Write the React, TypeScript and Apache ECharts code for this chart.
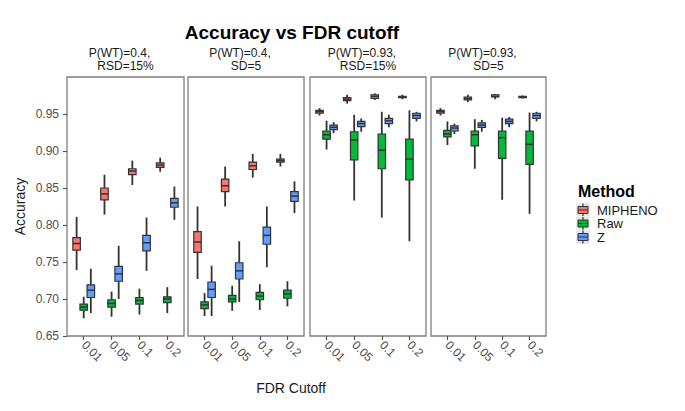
import React, { useEffect, useRef } from "react";
import * as echarts from "echarts";

const cutoffs = ["0.01", "0.05", "0.1", "0.2"];
const methods = ["MIPHENO", "Raw", "Z"];
const stripLine1 = ["P(WT)=0.4,", "P(WT)=0.4,", "P(WT)=0.93,", "P(WT)=0.93,"];
const stripLine2 = ["RSD=15%", "SD=5", "RSD=15%", "SD=5"];
const yTicks = [0.65, 0.7, 0.75, 0.8, 0.85, 0.9, 0.95];

// each entry: [lowerWhisker, q1, median, q3, upperWhisker] per FDR cutoff
const p1Mipheno = [[0.739, 0.766, 0.775, 0.783, 0.811], [0.814, 0.834, 0.842, 0.85, 0.868], [0.854, 0.868, 0.873, 0.876, 0.887], [0.872, 0.878, 0.881, 0.884, 0.891]];
const p1Raw = [[0.674, 0.685, 0.689, 0.693, 0.703], [0.676, 0.689, 0.694, 0.699, 0.71], [0.679, 0.693, 0.698, 0.702, 0.714], [0.681, 0.695, 0.7, 0.703, 0.716]];
const p1Z = [[0.681, 0.702, 0.712, 0.719, 0.741], [0.7, 0.724, 0.734, 0.744, 0.772], [0.738, 0.765, 0.776, 0.786, 0.81], [0.807, 0.824, 0.83, 0.836, 0.852]];

const p2Mipheno = [[0.727, 0.763, 0.777, 0.791, 0.825], [0.825, 0.845, 0.853, 0.862, 0.879], [0.864, 0.875, 0.88, 0.885, 0.896], [0.879, 0.885, 0.887, 0.889, 0.896]];
const p2Raw = [[0.677, 0.687, 0.692, 0.696, 0.708], [0.684, 0.696, 0.7, 0.705, 0.718], [0.685, 0.699, 0.704, 0.709, 0.72], [0.69, 0.701, 0.707, 0.712, 0.724]];
const p2Z = [[0.677, 0.702, 0.713, 0.723, 0.745], [0.696, 0.727, 0.738, 0.749, 0.778], [0.743, 0.774, 0.786, 0.797, 0.825], [0.816, 0.832, 0.839, 0.845, 0.859]];

const p3Mipheno = [[0.948, 0.951, 0.953, 0.955, 0.958], [0.964, 0.968, 0.97, 0.972, 0.976], [0.969, 0.971, 0.974, 0.976, 0.978], [0.97, 0.972, 0.973, 0.974, 0.976]];
const p3Raw = [[0.902, 0.916, 0.922, 0.927, 0.941], [0.833, 0.888, 0.915, 0.926, 0.949], [0.81, 0.876, 0.901, 0.923, 0.953], [0.778, 0.861, 0.889, 0.916, 0.955]];
const p3Z = [[0.924, 0.929, 0.932, 0.935, 0.939], [0.926, 0.933, 0.937, 0.94, 0.944], [0.932, 0.937, 0.941, 0.944, 0.949], [0.94, 0.944, 0.948, 0.951, 0.953]];

const p4Mipheno = [[0.948, 0.951, 0.953, 0.955, 0.958], [0.966, 0.969, 0.971, 0.973, 0.976], [0.97, 0.973, 0.974, 0.976, 0.977], [0.971, 0.972, 0.973, 0.974, 0.975]];
const p4Raw = [[0.908, 0.919, 0.923, 0.928, 0.94], [0.876, 0.907, 0.922, 0.927, 0.943], [0.834, 0.89, 0.918, 0.927, 0.945], [0.815, 0.882, 0.909, 0.927, 0.952]];
const p4Z = [[0.923, 0.927, 0.931, 0.934, 0.937], [0.926, 0.932, 0.935, 0.938, 0.942], [0.932, 0.937, 0.94, 0.943, 0.946], [0.94, 0.944, 0.948, 0.951, 0.953]];

const panelData = [
  [p1Mipheno, p1Raw, p1Z],
  [p2Mipheno, p2Raw, p2Z],
  [p3Mipheno, p3Raw, p3Z],
  [p4Mipheno, p4Raw, p4Z],
];

const colors = ["#F8766D", "#00BA38", "#619CFF"];
const panelLeft = [67, 188, 310, 431];
const panelWidth = [117, 116, 116, 115];
const panelTop = 77;
const panelHeight = 259;
const dodge = [-0.255, 0, 0.255];
const boxW = 0.27;
const FONT = "'Liberation Sans', Arial, sans-serif";

export default function App() {
  const ref = useRef<HTMLDivElement>(null);
  useEffect(() => {
    if (!ref.current) return;
    const chart = echarts.init(ref.current, null, { renderer: "svg" });

    const grids = panelLeft.map((l, i) => ({
      left: l,
      top: panelTop,
      width: panelWidth[i],
      height: panelHeight,
      show: true,
      borderColor: "#7f7f7f",
      borderWidth: 1.3,
      backgroundColor: "#ffffff",
    }));

    const xAxes = panelLeft.map((_, i) => ({
      type: "value",
      gridIndex: i,
      min: 0.4,
      max: 4.6,
      splitLine: { show: false },
      axisLine: { show: false },
      axisTick: { show: true, customValues: [1, 2, 3, 4], length: 4, lineStyle: { color: "#555", width: 1.2 } },
      axisLabel: {
        customValues: [1, 2, 3, 4],
        rotate: -45,
        margin: 7,
        fontSize: 12,
        fontFamily: FONT,
        color: "#4d4d4d",
        formatter: (v: number) => cutoffs[Math.round(v) - 1] ?? "",
      },
    }));

    const yAxes = panelLeft.map((_, i) => ({
      type: "value",
      gridIndex: i,
      min: 0.65,
      max: 1.0,
      splitLine: { show: false },
      axisLine: { show: false },
      axisTick: { show: i === 0, customValues: yTicks, length: 4, lineStyle: { color: "#555", width: 1.2 } },
      axisLabel: {
        show: i === 0,
        customValues: yTicks,
        margin: 8,
        fontSize: 12,
        fontFamily: FONT,
        color: "#4d4d4d",
        formatter: (v: number) => v.toFixed(2),
      },
      name: i === 0 ? "Accuracy" : "",
      nameLocation: "middle",
      nameRotate: 90,
      nameGap: 40,
      nameTextStyle: { fontSize: 14, fontFamily: FONT, color: "#1a1a1a" },
    }));

    const series: any[] = [];
    panelData.forEach((pd, pi) => {
      pd.forEach((arr, mi) => {
        series.push({
          type: "custom",
          name: methods[mi],
          xAxisIndex: pi,
          yAxisIndex: pi,
          itemStyle: { color: colors[mi] },
          encode: { x: 0, y: [1, 2, 3, 4, 5] },
          data: arr.map((d, k) => [k + 1, ...d]),
          renderItem: (params: any, api: any) => {
            const x = api.value(0) + dodge[mi];
            const lo = api.coord([x, api.value(1)]);
            const q1 = api.coord([x, api.value(2)]);
            const md = api.coord([x, api.value(3)]);
            const q3 = api.coord([x, api.value(4)]);
            const hi = api.coord([x, api.value(5)]);
            const w = api.size([boxW, 0])[0];
            const stroke = "#333333";
            return {
              type: "group",
              children: [
                { type: "line", shape: { x1: hi[0], y1: hi[1], x2: q3[0], y2: q3[1] }, style: { stroke, lineWidth: 1.8 } },
                { type: "line", shape: { x1: lo[0], y1: lo[1], x2: q1[0], y2: q1[1] }, style: { stroke, lineWidth: 1.8 } },
                {
                  type: "rect",
                  shape: { x: md[0] - w / 2, y: q3[1], width: w, height: Math.max(q1[1] - q3[1], 0.5) },
                  style: { fill: colors[mi], stroke, lineWidth: 1.2 },
                },
                { type: "line", shape: { x1: md[0] - w / 2, y1: md[1], x2: md[0] + w / 2, y2: md[1] }, style: { stroke, lineWidth: 1.5 } },
              ],
            };
          },
        });
      });
    });

    const graphics: any[] = [
      {
        type: "text",
        x: 292,
        y: 32,
        style: { text: "Accuracy vs FDR cutoff", font: `bold 19px ${FONT}`, fill: "#000", textAlign: "center", textVerticalAlign: "middle" },
      },
      {
        type: "text",
        x: 291,
        y: 388,
        style: { text: "FDR Cutoff", font: `14px ${FONT}`, fill: "#1a1a1a", textAlign: "center", textVerticalAlign: "middle" },
      },
      {
        type: "text",
        x: 578,
        y: 191,
        style: { text: "Method", font: `bold 16px ${FONT}`, fill: "#000", textAlign: "left", textVerticalAlign: "middle" },
      },
    ];
    panelLeft.forEach((l, i) => {
      const c = l + panelWidth[i] / 2;
      graphics.push({
        type: "text",
        x: c - 6,
        y: 53,
        style: { text: stripLine1[i], font: `12px ${FONT}`, fill: "#1a1a1a", textAlign: "center", textVerticalAlign: "middle" },
      });
      graphics.push({
        type: "text",
        x: c,
        y: 66,
        style: { text: stripLine2[i], font: `12px ${FONT}`, fill: "#1a1a1a", textAlign: "center", textVerticalAlign: "middle" },
      });
    });
    const keyY = [210, 223.5, 237];
    methods.forEach((m, k) => {
      const cy = keyY[k];
      graphics.push({ type: "rect", shape: { x: 576, y: cy - 7, width: 14, height: 14 }, style: { fill: "#e5e5e5", stroke: "#ffffff", lineWidth: 0.5 } });
      graphics.push({ type: "line", shape: { x1: 583, y1: cy - 6.5, x2: 583, y2: cy + 6.5 }, style: { stroke: "#333", lineWidth: 1.2 } });
      graphics.push({ type: "rect", shape: { x: 578, y: cy - 3.5, width: 10, height: 7 }, style: { fill: colors[k], stroke: "#333", lineWidth: 1 } });
      graphics.push({ type: "line", shape: { x1: 578, y1: cy, x2: 588, y2: cy }, style: { stroke: "#333", lineWidth: 1 } });
      graphics.push({
        type: "text",
        x: 597,
        y: cy,
        style: { text: m, font: `13px ${FONT}`, fill: "#1a1a1a", textAlign: "left", textVerticalAlign: "middle" },
      });
    });

    chart.setOption({
      animation: false,
      backgroundColor: "#ffffff",
      grid: grids,
      xAxis: xAxes,
      yAxis: yAxes,
      series,
      graphic: graphics,
    });
    return () => chart.dispose();
  }, []);

  return (
    <div
      ref={ref}
      style={{ position: "fixed", left: 0, top: 0, width: 685, height: 411 }}
    />
  );
}
